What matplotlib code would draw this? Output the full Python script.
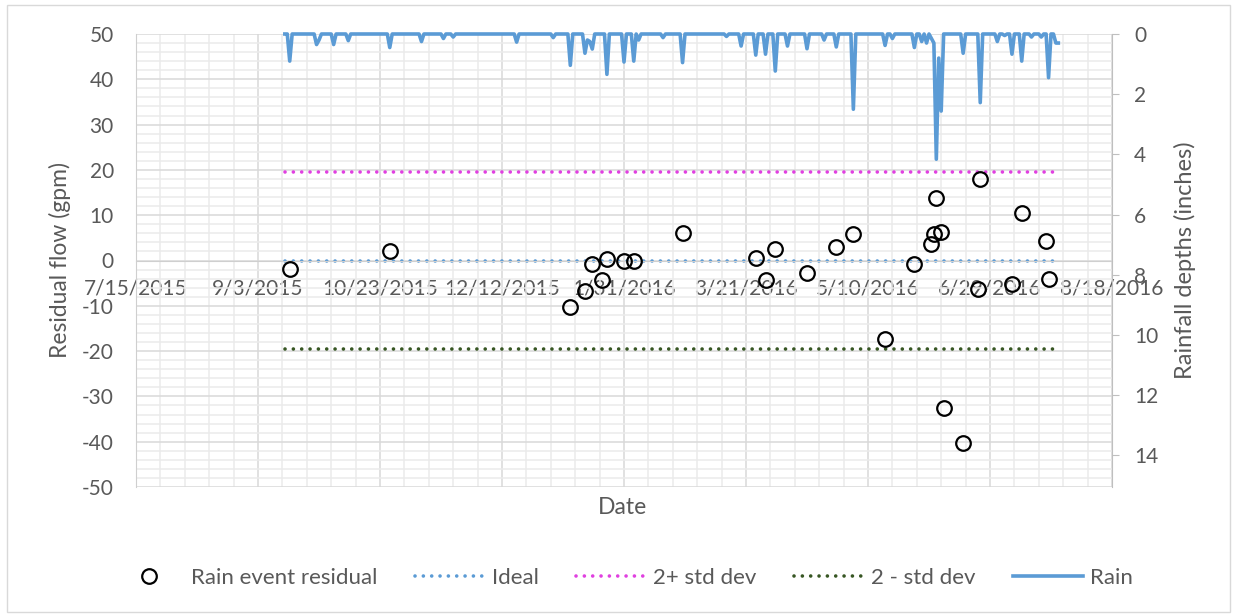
import numpy as np
import pandas as pd
import matplotlib
matplotlib.use('Agg')
import matplotlib.pyplot as plt
from matplotlib.patches import Rectangle
from matplotlib.lines import Line2D

plt.rcParams['font.family'] = ['Lato', 'DejaVu Sans']
plt.rcParams['axes.unicode_minus'] = False

# Rain event residuals (gpm)
event_dates = ['2015-09-16', '2015-10-27', '2016-01-09', '2016-01-15', '2016-01-18',
               '2016-01-22', '2016-01-24', '2016-01-31', '2016-02-04', '2016-02-24',
               '2016-03-25', '2016-03-29', '2016-04-02', '2016-04-15', '2016-04-27',
               '2016-05-04', '2016-05-17', '2016-05-29', '2016-06-05', '2016-06-06',
               '2016-06-07', '2016-06-09', '2016-06-10', '2016-06-18', '2016-06-24',
               '2016-06-25', '2016-07-08', '2016-07-12', '2016-07-22', '2016-07-23']
residuals = [-1.9, 2.0, -10.3, -6.7, -0.8,
             -4.3, 0.3, 0.0, -0.2, 6.1,
             0.5, -4.2, 2.5, -2.8, 3.0,
             5.8, -17.4, -0.7, 3.6, 5.8,
             13.7, 6.2, -32.5, -40.2, -6.4,
             18.1, -5.2, 10.4, 4.2, -4.1]

# Daily rainfall (inches); days not listed had no rain
rain_dates = ['2015-09-16', '2015-09-27', '2015-09-28', '2015-10-04', '2015-10-10',
              '2015-10-27', '2015-11-09', '2015-11-18', '2015-11-22', '2015-12-18',
              '2016-01-02', '2016-01-09', '2016-01-15', '2016-01-16', '2016-01-17',
              '2016-01-18', '2016-01-24', '2016-01-31', '2016-02-04', '2016-02-06',
              '2016-02-16', '2016-02-24', '2016-03-13', '2016-03-19', '2016-03-25',
              '2016-03-29', '2016-04-02', '2016-04-07', '2016-04-15', '2016-04-22',
              '2016-04-27', '2016-05-04', '2016-05-17', '2016-05-20', '2016-05-29',
              '2016-06-01', '2016-06-03', '2016-06-05', '2016-06-06', '2016-06-07',
              '2016-06-08', '2016-06-09', '2016-06-18', '2016-06-25', '2016-07-02',
              '2016-07-05', '2016-07-08', '2016-07-12', '2016-07-16', '2016-07-20',
              '2016-07-23', '2016-07-26', '2016-07-27']
rain_inches = [0.9, 0.35, 0.2, 0.35, 0.22,
               0.45, 0.25, 0.15, 0.1, 0.27,
               0.12, 1.04, 0.64, 0.2, 0.25,
               0.5, 1.34, 0.93, 0.9, 0.2,
               0.12, 0.95, 0.08, 0.4, 0.7,
               0.67, 1.23, 0.4, 0.49, 0.2,
               0.43, 2.5, 0.38, 0.15, 0.45,
               0.25, 0.3, 0.15, 0.3, 4.16,
               0.8, 2.56, 0.64, 2.28, 0.25,
               0.05, 0.67, 0.9, 0.1, 0.1,
               1.45, 0.3, 0.3]
series_start, series_end = '2015-09-14', '2016-07-27'

ideal = 0.0
upper = 19.6
lower = -19.6

grey = '#595959'

fig = plt.figure(figsize=(12.33, 6.14), dpi=100)
ax = fig.add_axes([136 / 1233, 1 - 487 / 614, (1112 - 136) / 1233, (487 - 34) / 614])
ax2 = ax.twinx()

xmin, xmax = pd.Timestamp('2015-07-15'), pd.Timestamp('2016-08-18')
ax.set_xlim(xmin, xmax)
major = pd.date_range(xmin, xmax, freq='50D')
ax.set_xticks(major)
ax.set_xticks(pd.date_range(xmin, xmax, freq='10D'), minor=True)
ax.set_xticklabels([f'{d.month}/{d.day}/{d.year}' for d in major])

ax.set_ylim(-50, 50)
ax.set_yticks(np.arange(-50, 51, 10))
ax.set_yticks(np.arange(-50, 51, 2), minor=True)
ax.grid(which='major', color='#D9D9D9', lw=1.1)
ax.grid(which='minor', color='#EBEBEB', lw=1.1)
ax.set_axisbelow(True)

ax.spines['bottom'].set_position(('data', 0))
ax.spines['bottom'].set_color('#CFCFCF')
ax.spines['left'].set_color('#CFCFCF')
ax.spines['top'].set_visible(False)
ax.spines['right'].set_visible(False)
ax.tick_params(axis='x', which='both', length=0, pad=13, labelsize=15, labelcolor=grey)
ax.tick_params(axis='y', which='both', length=0, pad=16, labelsize=15, labelcolor=grey)

# reference lines
xs = pd.to_datetime([series_start, series_end])
dot = (0, (0.01, 2.3))
ax.plot(xs, [ideal, ideal], color='#5B9BD5', lw=2.6, ls=dot, dash_capstyle='round')
ax.plot(xs, [upper, upper], color='#E040E0', lw=2.6, ls=dot, dash_capstyle='round')
ax.plot(xs, [lower, lower], color='#375623', lw=2.6, ls=dot, dash_capstyle='round')

ax.plot(pd.to_datetime(event_dates), residuals, 'o', mfc='none', mec='black',
        ms=10.5, mew=1.6, zorder=5)

# rainfall on the secondary (inverted) axis
rain = pd.Series(0.0, index=pd.date_range(series_start, series_end))
rain[pd.to_datetime(rain_dates)] = rain_inches
ax2.plot(rain.index, rain.values, color='#5B9BD5', lw=2.6,
         solid_joinstyle='round', clip_on=False)
ax2.set_ylim(15.05, 0)
ax2.set_yticks(np.arange(0, 15, 2))
for s in ['left', 'top', 'bottom']:
    ax2.spines[s].set_visible(False)
ax2.spines['right'].set_color('#BFBFBF')
ax2.tick_params(axis='y', direction='out', length=5, color='#BFBFBF', pad=11,
                labelsize=15, labelcolor=grey)

fig.text(622 / 1233, 1 - 507 / 614, 'Date', ha='center', va='center', fontsize=16.5, color=grey)
fig.text(60 / 1233, 1 - 260 / 614, 'Residual flow (gpm)', ha='center', va='center',
         rotation=90, fontsize=16.5, color=grey)
fig.text(1185 / 1233, 1 - 260 / 614, 'Rainfall depths (inches)', ha='center', va='center',
         rotation=90, fontsize=17, color=grey)

handles = [
    Line2D([], [], ls='none', marker='o', mfc='none', mec='black', ms=10.5, mew=1.6),
    Line2D([], [], color='#5B9BD5', lw=2.6, ls=dot, dash_capstyle='round'),
    Line2D([], [], color='#E040E0', lw=2.6, ls=dot, dash_capstyle='round'),
    Line2D([], [], color='#375623', lw=2.6, ls=dot, dash_capstyle='round'),
    Line2D([], [], color='#5B9BD5', lw=2.6),
]
labels = ['Rain event residual', 'Ideal', '2+ std dev', '2 - std dev', 'Rain']
leg = fig.legend(handles, labels, loc='center', bbox_to_anchor=(0.5 + 7 / 1233, 1 - 578 / 614),
                 ncol=5, frameon=False, fontsize=16, handlelength=3.15,
                 columnspacing=1.7, handletextpad=0.3)
for t in leg.get_texts():
    t.set_color(grey)

fig.add_artist(Rectangle((7 / 1233, 1 - 612 / 614), (1230 - 7) / 1233, (612 - 5) / 614,
                         transform=fig.transFigure, fill=False, edgecolor='#D9D9D9', lw=1))

fig.savefig('out.png', dpi=100)
